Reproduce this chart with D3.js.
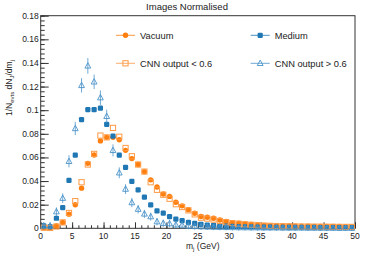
<!DOCTYPE html>
<html lang="en">
<head>
<meta charset="utf-8">
<title>Images Normalised</title>
<script src="https://d3js.org/d3.v7.min.js"></script>
<style>
    body { margin: 0; padding: 0; background: white; overflow: hidden; }
    svg { display: block; font-family: "Liberation Sans", Arial, sans-serif; }
</style>
</head>
<body>
<div id="chart"></div>
<script>
    // bin centres, 1 GeV wide bins from 0 to 50
    const binCentres = d3.range(50).map(i => i + 0.5);

    const vacuum = [0.0005, 0.0004, 0.002, 0.005, 0.012, 0.020, 0.034, 0.055, 0.062, 0.074,
        0.077, 0.077, 0.075, 0.066, 0.059, 0.054, 0.048, 0.041, 0.035, 0.029,
        0.027, 0.022, 0.019, 0.0158, 0.0128, 0.0100, 0.0094, 0.0085, 0.0070, 0.0058,
        0.0048, 0.0043, 0.0037, 0.0032, 0.0028, 0.0025, 0.0023, 0.0021, 0.0020, 0.0019,
        0.0018, 0.0017, 0.0017, 0.0016, 0.0016, 0.0015, 0.0015, 0.0015, 0.0014, 0.0014];

    const medium = [0.002, 0.0015, 0.0085, 0.0175, 0.0405, 0.062, 0.092, 0.1005, 0.1005, 0.1018,
        0.088, 0.078, 0.062, 0.0515, 0.0397, 0.0326, 0.0264, 0.0198, 0.0147, 0.0128,
        0.0099, 0.0077, 0.0065, 0.0050, 0.0042, 0.0034, 0.0028, 0.0024, 0.0020, 0.0018,
        0.0016, 0.0014, 0.0013, 0.0012, 0.0011, 0.0010, 0.0010, 0.0009, 0.0009, 0.0008,
        0.0008, 0.0007, 0.0007, 0.0007, 0.0006, 0.0006, 0.0006, 0.0005, 0.0005, 0.0005];

    const cnnLow = [0.0005, 0.0003, 0.0015, 0.005, 0.013, 0.023, 0.039, 0.054, 0.063, 0.0785,
        0.077, 0.085, 0.0775, 0.068, 0.061, 0.054, 0.048, 0.039, 0.0326, 0.0284,
        0.025, 0.0204, 0.018, 0.0152, 0.0118, 0.0090, 0.0082, 0.0074, 0.0062, 0.0052,
        0.0044, 0.0039, 0.0034, 0.0030, 0.0026, 0.0023, 0.0021, 0.0019, 0.0018, 0.0017,
        0.0016, 0.0015, 0.0015, 0.0014, 0.0014, 0.0013, 0.0013, 0.0012, 0.0012, 0.0012];

    const cnnHigh = [0.002, 0.002, 0.0141, 0.0255, 0.0567, 0.0845, 0.121, 0.1375, 0.124, 0.1106,
        0.0948, 0.066, 0.047, 0.0332, 0.0218, 0.0162, 0.0122, 0.0099, 0.0056, 0.0043,
        0.0040, 0.0030, 0.0028, 0.0020, 0.0016, 0.0014, 0.0012, 0.0010, 0.0009, 0.0008,
        0.0007, 0.0006, 0.0006, 0.0005, 0.0005, 0.0004, 0.0004, 0.0004, 0.0003, 0.0003,
        0.0003, 0.0003, 0.0002, 0.0002, 0.0002, 0.0002, 0.0002, 0.0001, 0.0001, 0.0001];

    const cnnHighErr = [0.001, 0.001, 0.0015, 0.002, 0.003, 0.0035, 0.004, 0.0045, 0.004, 0.004,
        0.0035, 0.003, 0.0025, 0.002, 0.0018, 0.0015, 0.0013, 0.0012, 0.001, 0.001,
        0.001, 0.0008, 0.0008, 0.0007, 0.0006, 0.0006, 0.0005, 0.0005, 0.0005, 0.0004,
        0.0004, 0.0004, 0.0004, 0.0003, 0.0003, 0.0003, 0.0003, 0.0003, 0.0002, 0.0002,
        0.0002, 0.0002, 0.0002, 0.0002, 0.0002, 0.0002, 0.0002, 0.0001, 0.0001, 0.0001];

    const yTicks = [0, 0.02, 0.04, 0.06, 0.08, 0.1, 0.12, 0.14, 0.16, 0.18];
    const xTicks = [0, 5, 10, 15, 20, 25, 30, 35, 40, 45, 50];

    const orange = "#ff7f0e";
    const blue = "#1f77b4";
    const lightOrange = "#ff9a45";
    const lightBlue = "#4a93c9";

    const w = 374, h = 254;
    const padL = 40.7, padR = 355, padT = 15.7, padB = 228.3;

    const svg = d3.select("#chart").append("svg")
        .attr("width", w)
        .attr("height", h);

    const x = d3.scaleLinear().domain([0, 50]).range([padL, padR]);
    const y = d3.scaleLinear().domain([0, 0.18]).range([padB, padT]);

    // frame
    svg.append("rect")
        .attr("x", padL).attr("y", padT)
        .attr("width", padR - padL).attr("height", padB - padT)
        .attr("fill", "none")
        .attr("stroke", "#333")
        .attr("stroke-width", 1);

    // y axis, ticks pointing inside the frame
    const yAxis = svg.append("g")
        .attr("transform", `translate(${padL},0)`)
        .call(d3.axisRight(y).tickValues(yTicks).tickSize(8).tickFormat(""));
    yAxis.select(".domain").remove();
    yAxis.selectAll("line").attr("stroke", "#333");

    const yMinor = svg.append("g")
        .attr("transform", `translate(${padL},0)`)
        .call(d3.axisRight(y).tickValues(d3.range(0, 0.1801, 0.004)).tickSize(4).tickFormat(""));
    yMinor.select(".domain").remove();
    yMinor.selectAll("line").attr("stroke", "#333");

    svg.append("g").selectAll("text")
        .data(yTicks)
        .join("text")
        .attr("x", padL - 2)
        .attr("y", d => y(d) + 3)
        .attr("text-anchor", "end")
        .attr("font-size", 8.5)
        .attr("fill", "#222")
        .text(d => d3.format("")(d));

    // x axis, ticks pointing up
    const xAxis = svg.append("g")
        .attr("transform", `translate(0,${padB})`)
        .call(d3.axisTop(x).tickValues(xTicks).tickSize(6).tickFormat(""));
    xAxis.select(".domain").remove();
    xAxis.selectAll("line").attr("stroke", "#333");

    const xMinor = svg.append("g")
        .attr("transform", `translate(0,${padB})`)
        .call(d3.axisTop(x).tickValues(d3.range(0, 51, 1)).tickSize(3).tickFormat(""));
    xMinor.select(".domain").remove();
    xMinor.selectAll("line").attr("stroke", "#333");

    svg.append("g").selectAll("text")
        .data(xTicks)
        .join("text")
        .attr("x", d => x(d))
        .attr("y", padB + 10.5)
        .attr("text-anchor", "middle")
        .attr("font-size", 8.5)
        .attr("fill", "#222")
        .text(d => d);

    // axis titles
    const xTitle = svg.append("text")
        .attr("x", 186)
        .attr("y", 249)
        .attr("font-size", 8.5)
        .attr("fill", "#222");
    xTitle.append("tspan").text("m");
    xTitle.append("tspan").attr("font-size", 6).attr("dy", 2).text("j");
    xTitle.append("tspan").attr("dy", -2).text(" (GeV)");

    const yTitle = svg.append("text")
        .attr("transform", "translate(12,88) rotate(-90)")
        .attr("text-anchor", "middle")
        .attr("font-size", 8.5)
        .attr("fill", "#222");
    yTitle.append("tspan").text("1/N");
    yTitle.append("tspan").attr("font-size", 6).attr("dy", 2).text("evts");
    yTitle.append("tspan").attr("dy", -2).text(" dN");
    yTitle.append("tspan").attr("font-size", 6).attr("dy", 2).text("J");
    yTitle.append("tspan").attr("dy", -2).text("/dm");
    yTitle.append("tspan").attr("font-size", 6).attr("dy", 2).text("j");

    svg.append("text")
        .attr("x", 187)
        .attr("y", 10)
        .attr("text-anchor", "middle")
        .attr("font-size", 9.5)
        .attr("fill", "#222")
        .text("Images Normalised");

    const plot = svg.append("g");

    const markers = {
        circle: (g, c) => g.append("circle").attr("r", 2.7).attr("fill", c),
        square: (g, c) => g.append("rect").attr("x", -2.6).attr("y", -2.6)
            .attr("width", 5.2).attr("height", 5.2).attr("rx", 1.2).attr("fill", c),
        openSquare: (g, c) => g.append("rect").attr("x", -2.6).attr("y", -2.6)
            .attr("width", 5.2).attr("height", 5.2).attr("fill", "none")
            .attr("stroke", c).attr("stroke-width", 1),
        triangle: (g, c) => g.append("path").attr("d", "M0,-3.2L2.9,2.2L-2.9,2.2Z")
            .attr("fill", "none").attr("stroke", c).attr("stroke-width", 0.9)
    };

    const series = [
        { name: "Vacuum", values: vacuum, color: orange, marker: "circle" },
        { name: "Medium", values: medium, color: blue, marker: "square" },
        { name: "CNN output < 0.6", values: cnnLow, color: lightOrange, marker: "openSquare" },
        { name: "CNN output > 0.6", values: cnnHigh, err: cnnHighErr, color: lightBlue, marker: "triangle" }
    ];

    series.forEach(s => {
        const pts = binCentres.map((c, i) => ({ x: c, v: s.values[i], e: s.err ? s.err[i] : 0 }));
        if (s.err) {
            plot.append("g").selectAll("line")
                .data(pts)
                .join("line")
                .attr("x1", d => x(d.x)).attr("x2", d => x(d.x))
                .attr("y1", d => y(d.v + d.e) - 2.5).attr("y2", d => y(Math.max(0, d.v - d.e)) + 2.5)
                .attr("stroke", s.color)
                .attr("stroke-width", 0.8);
        }
        const g = plot.append("g").selectAll("g")
            .data(pts)
            .join("g")
            .attr("transform", d => `translate(${x(d.x)},${y(d.v)})`);
        g.each(function() { markers[s.marker](d3.select(this), s.color); });
    });

    // legend
    const legendPos = [[116, 35.3], [250.7, 35.3], [116, 63.3], [250.7, 63.3]];
    series.forEach((s, i) => {
        const [lx, ly] = legendPos[i];
        const lg = svg.append("g").attr("transform", `translate(${lx},${ly})`);
        lg.append("line").attr("x1", 0).attr("x2", 19).attr("y1", 0).attr("y2", 0)
            .attr("stroke", s.color).attr("stroke-width", 1).attr("opacity", 0.8);
        markers[s.marker](lg.append("g").attr("transform", "translate(9.5,0)"), s.color);
        lg.append("text")
            .attr("x", 24)
            .attr("y", 3.3)
            .attr("font-size", 9.3)
            .attr("fill", "#222")
            .text(s.name);
    });
</script>
</body>
</html>
